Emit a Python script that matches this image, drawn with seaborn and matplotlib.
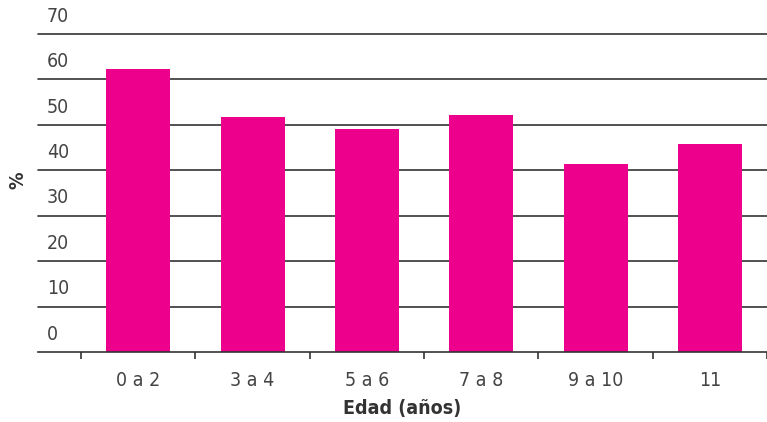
import matplotlib
matplotlib.use("Agg")
import matplotlib.pyplot as plt
import matplotlib.transforms as mtransforms
import seaborn as sns
import pandas as pd
import numpy as np

categories = ["0 a 2", "3 a 4", "5 a 6", "7 a 8", "9 a 10", "11"]
values = [62.3, 51.7, 49.1, 52.1, 41.3, 45.7]
yticks = [0, 10, 20, 30, 40, 50, 60, 70]

sns.set_theme(style="white")
plt.rcParams['font.family'] = ['DejaVu Sans']
plt.rcParams['font.stretch'] = 'condensed'

df = pd.DataFrame({"cat": categories, "val": values})

fig = plt.figure(figsize=(7.67, 4.22), dpi=100)
ax = fig.add_axes([38/767, 1 - 352/422, 1 - 38/767, (352 - 34)/422])

sns.barplot(data=df, x="cat", y="val", color="#EC008C", width=0.56,
            saturation=1, ax=ax, zorder=3, linewidth=0, edgecolor="none")

ax.set_ylim(0, 70)
ax.set_xlim(-0.5 - 43/114.2, 5.5)

for s in ["top", "right", "left"]:
    ax.spines[s].set_visible(False)
ax.spines["bottom"].set_color("#333333")
ax.spines["bottom"].set_linewidth(1.2)
ax.spines["bottom"].set_zorder(4)

for v in yticks[1:]:
    ax.axhline(v, color="#333333", lw=1.2, zorder=1, clip_on=False)

ax.set_yticks([])
off = mtransforms.offset_copy(ax.get_yaxis_transform(), fig=fig, x=0, y=6, units="points")
for v in yticks:
    ax.text(0.0125, v, str(v), transform=off, ha="left", va="bottom",
            fontsize=14, color="#444444", fontstretch="condensed")

ax.set_xticks(range(len(categories)))
ax.set_xticklabels(categories, fontsize=14, color="#444444", fontstretch="condensed")
ax.tick_params(axis="x", which="major", length=0, pad=14)
ax.set_xticks(np.arange(-0.5, len(categories), 1.0), minor=True)
ax.tick_params(axis="x", which="minor", length=5, width=1.2, color="#333333", direction="out", bottom=True)

ax.set_xlabel("Edad (años)", fontsize=14, fontweight="bold", color="#333333",
              labelpad=6, fontstretch="condensed")
ax.set_ylabel("")
fig.text(18/767, 1 - 180/422, "%", rotation=90, fontsize=14, fontweight="bold",
         color="#333333", ha="center", va="center", fontstretch="condensed")

fig.savefig("out.png", dpi=100)
